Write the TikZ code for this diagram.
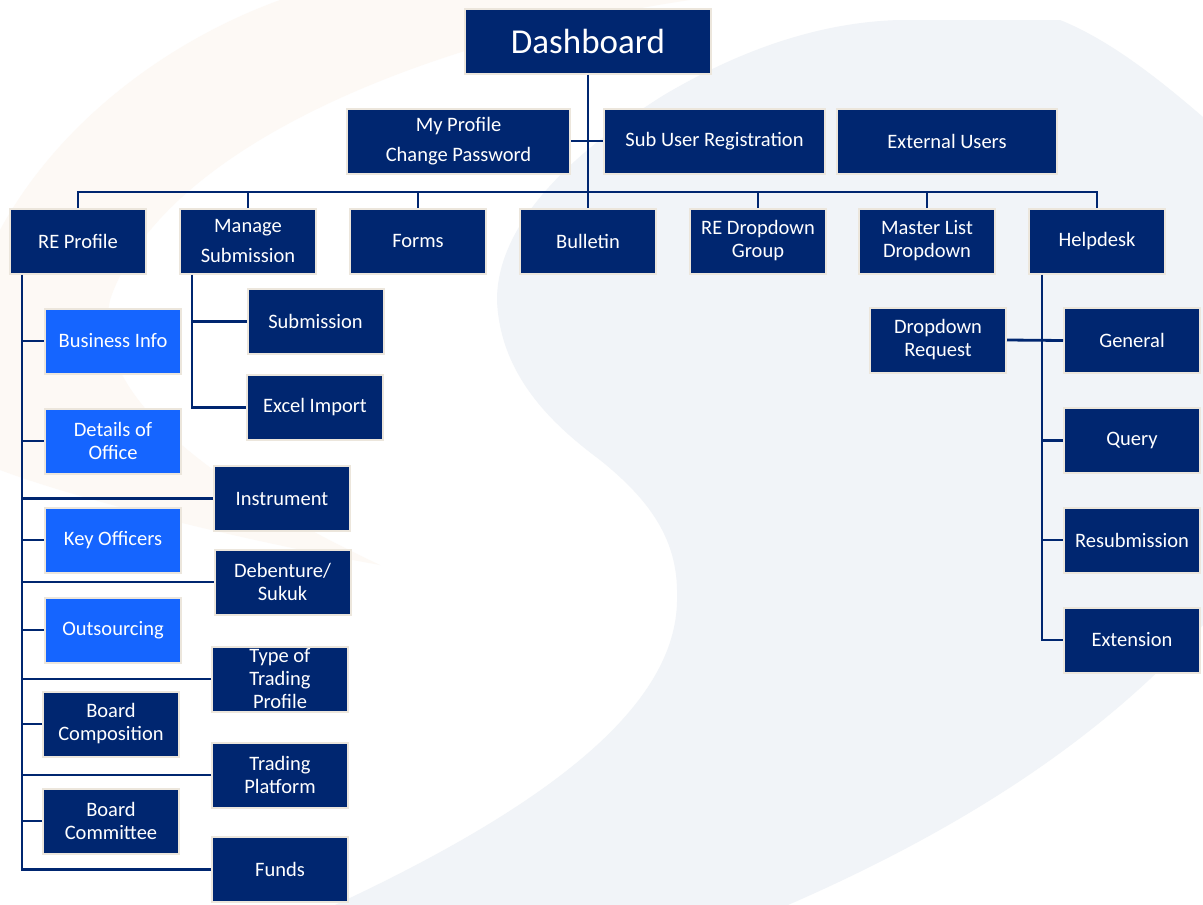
\documentclass[tikz,border=0pt]{standalone}
\usepackage{fontspec}
\setmainfont{Carlito}
\usetikzlibrary{positioning,calc}
\definecolor{navy}{HTML}{002670}
\definecolor{brightblue}{HTML}{1565FF}
\definecolor{rim}{HTML}{ECE6DC}
\definecolor{bggrey}{HTML}{F1F4F8}
\definecolor{bgpeach}{HTML}{FDF9F5}

\begin{document}
\begin{tikzpicture}[x=1pt,y=-1pt,
  box/.style={draw=rim,line width=2pt,fill=navy,text=white,minimum width=136pt,minimum height=65pt,align=center,inner sep=2pt,font=\fontsize{20.5}{23}\selectfont},
  hbox/.style={box,fill=brightblue},
  link/.style={draw=navy,line width=2.8pt},
]
% background
\useasboundingbox (0,0) rectangle (1203,905);
\fill[white] (0,0) rectangle (1203,905);
\fill[bgpeach] (0,230) .. controls (60,120) and (170,40) .. (280,0) -- (690,0)
  .. controls (420,40) and (160,150) .. (110,300) .. controls (90,390) and (200,480) .. (380,565)
  .. controls (240,540) and (80,500) .. (0,470) -- cycle;
\fill[bggrey] (664,95) .. controls (740,50) and (820,22) .. (900,20) -- (1060,20)
  .. controls (1110,40) and (1160,80) .. (1203,117) -- (1203,625)
  .. controls (1100,740) and (960,830) .. (788,905) -- (335,905)
  .. controls (560,800) and (680,700) .. (677,595)
  .. controls (678,540) and (650,500) .. (600,460)
  .. controls (560,430) and (500,380) .. (497,300)
  .. controls (497,230) and (560,160) .. (664,95) -- cycle;

% top
\node[box,minimum width=246pt,font=\fontsize{35}{40}\selectfont] (dash) at (588,41) {Dashboard};
\node[box,minimum width=223pt] (prof) at (458.5,141) {My Profile\\[7pt]Change Password};
\node[box,minimum width=221pt] (subuser) at (714.5,141) {Sub User Registration};
\node[box,minimum width=220pt] (extuser) at (947,141) {External Users};

% second level
\foreach \n/\x/\t in {re/78/RE Profile,ms/248/{Manage\\[7pt]Submission},forms/418/Forms,
  bulletin/588/Bulletin,redrop/758/{RE Dropdown\\Group},master/927/{Master List\\Dropdown},help/1097/Helpdesk}
  \node[box] (\n) at (\x,241) {\t};

% RE Profile children
\foreach \n/\x/\y/\t in {biz/113/341/Business Info,office/113/441/{Details of\\Office},
  keyoff/113/540/Key Officers,outsrc/113/630/Outsourcing}
  \node[hbox] (\n) at (\x,\y) {\t};
\foreach \n/\x/\y/\t in {boardcomp/111/724/{Board\\Composition},boardcom/111/821/{Board\\Committee},
  instr/282/498.5/Instrument,deben/282.5/582/{Debenture/\\Sukuk},trtype/280/679/{Type of\\Trading\\Profile},
  trplat/280/775/{Trading\\Platform},funds/280/869.5/Funds}
  \node[box] (\n) at (\x,\y) {\t};

% Manage Submission children
\node[box] (subm) at (315.5,321.5) {Submission};
\node[box] (excel) at (315,407.5) {Excel Import};

% Helpdesk children
\foreach \n/\y/\t in {general/340.5/General,query/440.5/Query,resub/540/Resubmission,ext/640/Extension}
  \node[box] (\n) at (1132,\y) {\t};
\node[box] (ddreq) at (938,340) {Dropdown\\Request};

% connectors
\coordinate (bus) at (588,192);
\draw[link] (dash.south) -- (bulletin.north);
\draw[link] (prof.east) -- (subuser.west);
\draw[link] (re.north) |- (bus) -| (help.north);
\foreach \n in {ms,forms,redrop,master}
  \draw[link] (\n.north) -- (\n.north |- bus);

\coordinate (respine) at ([xshift=13pt]re.south west);
\draw[link] (respine) |- (funds.west);
\foreach \n in {biz,office,keyoff,outsrc,boardcomp,boardcom,instr,deben,trtype,trplat}
  \draw[link] (\n.west) -- (\n.west -| respine);

\coordinate (msspine) at ([xshift=13pt]ms.south west);
\draw[link] (msspine) |- (excel.west);
\draw[link] (subm.west) -- (subm.west -| msspine);

\coordinate (helpspine) at ([xshift=14pt]help.south west);
\draw[link] (helpspine) |- (ext.west);
\foreach \n in {query,resub}
  \draw[link] (\n.west) -- (\n.west -| helpspine);
\draw[link] (ddreq.east) -- (general.west);
\end{tikzpicture}
\end{document}
